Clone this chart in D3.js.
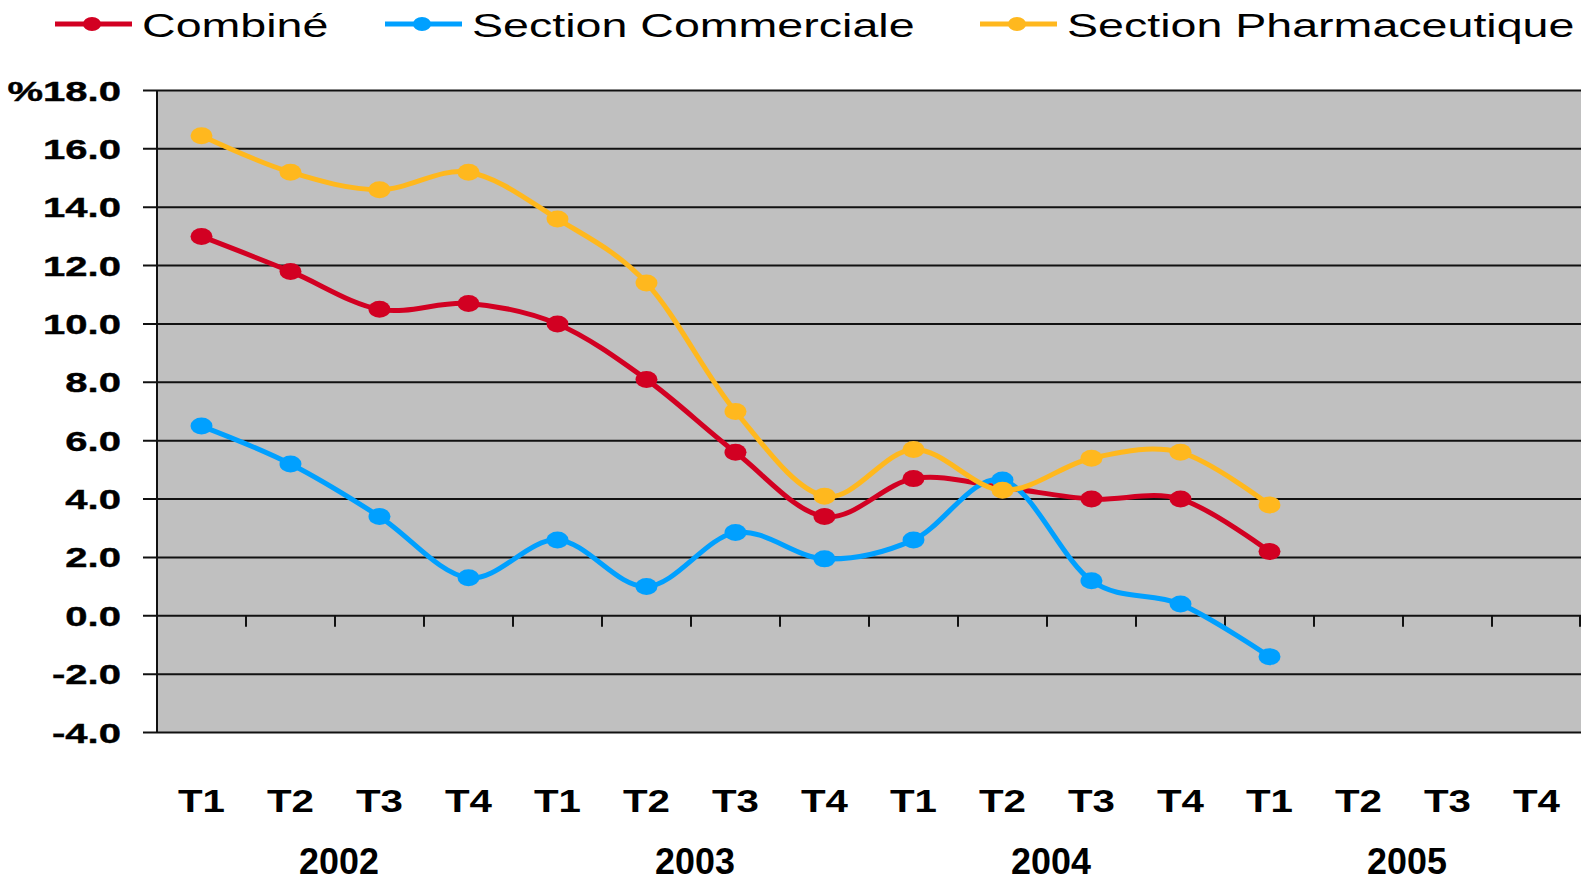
<!DOCTYPE html>
<html lang="fr">
<head>
<meta charset="UTF-8">
<title>Combiné / Section Commerciale / Section Pharmaceutique</title>
<style>
  html, body { margin: 0; padding: 0; background: #fff; overflow: hidden; }
  text { font-family: "Liberation Sans", Arial, sans-serif; fill: #000; }
</style>
</head>
<body>
<script src="https://cdn.jsdelivr.net/npm/d3@7"></script>
<script>
// data
const quarters = ['T1', 'T2', 'T3', 'T4', 'T1', 'T2', 'T3', 'T4', 'T1', 'T2', 'T3', 'T4', 'T1', 'T2', 'T3', 'T4']
const years = ['2002', '2003', '2004', '2005']
const yTicks = [-4, -2, 0, 2, 4, 6, 8, 10, 12, 14, 16, 18]

const combine = [13.0, 11.8, 10.5, 10.7, 10.0, 8.1, 5.6, 3.4, 4.7, 4.4, 4.0, 4.0, 2.2]
const commerciale = [6.5, 5.2, 3.4, 1.3, 2.6, 1.0, 2.85, 1.95, 2.6, 4.65, 1.2, 0.4, -1.4]
const pharma = [16.45, 15.2, 14.6, 15.2, 13.6, 11.4, 7.0, 4.1, 5.7, 4.3, 5.4, 5.6, 3.8]

const seriesNames = ['Combiné', 'Section Commerciale', 'Section Pharmaceutique']
const seriesValues = [combine, commerciale, pharma]
const colors = ['#d20022', '#00a0ff', '#ffb81e']

const width = 1592
const height = 883
const plot = { left: 157, right: 1581, top: 90.5, bottom: 732.5 }

const svg = d3.select('body').append('svg')
    .attr('width', width)
    .attr('height', height)

const x = d3.scaleBand()
    .domain(d3.range(quarters.length))
    .range([plot.left, plot.right])
    .paddingInner(0).paddingOuter(0)

const y = d3.scaleLinear()
    .domain([-4, 18])
    .range([plot.bottom, plot.top])

const cx = i => x(i) + x.bandwidth() / 2

// plot background
svg.append('rect')
    .attr('x', plot.left).attr('y', plot.top)
    .attr('width', plot.right - plot.left).attr('height', plot.bottom - plot.top)
    .attr('fill', '#c0c0c0')

// gridlines + left tick stubs
svg.selectAll('.grid')
    .data(yTicks)
    .enter().append('line')
    .attr('class', 'grid')
    .attr('x1', plot.left - 14).attr('x2', plot.right)
    .attr('y1', d => y(d)).attr('y2', d => y(d))
    .attr('stroke', '#111')
    .attr('stroke-width', 2)

// left axis
svg.append('line')
    .attr('x1', plot.left).attr('x2', plot.left)
    .attr('y1', plot.top).attr('y2', plot.bottom)
    .attr('stroke', '#111').attr('stroke-width', 2)

// category ticks hanging from the zero line
svg.selectAll('.xtick')
    .data(d3.range(1, quarters.length + 1))
    .enter().append('line')
    .attr('class', 'xtick')
    .attr('x1', d => d < quarters.length ? x(d) : plot.right - 1)
    .attr('x2', d => d < quarters.length ? x(d) : plot.right - 1)
    .attr('y1', y(0)).attr('y2', y(0) + 11)
    .attr('stroke', '#111').attr('stroke-width', 2)

// y labels (stretched wide like the original)
svg.selectAll('.ylab')
    .data(yTicks)
    .enter().append('text')
    .attr('class', 'ylab')
    .attr('transform', d => `translate(121, ${y(d) + 10}) scale(1.43, 1)`)
    .attr('text-anchor', 'end')
    .attr('font-size', 28)
    .attr('font-weight', 'bold')
    .attr('stroke', '#000').attr('stroke-width', 0.4)
    .text(d => (d === 18 ? '%' : '') + d.toFixed(1))

// quarter labels
svg.selectAll('.qlab')
    .data(quarters)
    .enter().append('text')
    .attr('class', 'qlab')
    .attr('transform', (d, i) => `translate(${cx(i)}, 812) scale(1.3, 1)`)
    .attr('text-anchor', 'middle')
    .attr('font-size', 31)
    .attr('font-weight', 'bold')
    .text(d => d)

// year labels
svg.selectAll('.year')
    .data(years)
    .enter().append('text')
    .attr('class', 'year')
    .attr('transform', (d, i) => `translate(${x(i * 4) + 2 * x.bandwidth() + 4}, 874) scale(0.97, 1)`)
    .attr('text-anchor', 'middle')
    .attr('font-size', 37)
    .attr('font-weight', 'bold')
    .text(d => d)

// series
const line = d3.line()
    .x((d, i) => cx(i))
    .y(d => y(d))
    .curve(d3.curveCardinal.tension(0))

const series = svg.selectAll('.series')
    .data(seriesValues)
    .enter().append('g')
    .attr('class', 'series')

series.append('path')
    .attr('d', d => line(d))
    .attr('fill', 'none')
    .attr('stroke', (d, i) => colors[i])
    .attr('stroke-width', 5)
    .attr('stroke-linejoin', 'round')

series.each(function (vals, si) {
    d3.select(this).selectAll('ellipse')
        .data(vals)
        .enter().append('ellipse')
        .attr('cx', (d, i) => cx(i))
        .attr('cy', d => y(d))
        .attr('rx', 11).attr('ry', 8.5)
        .attr('fill', colors[si])
})

// legend
const legendX = [55, 385, 980]
const legend = svg.selectAll('.legend')
    .data(seriesNames)
    .enter().append('g')
    .attr('class', 'legend')
    .attr('transform', (d, i) => `translate(${legendX[i]}, 24)`)

legend.append('line')
    .attr('x1', 0).attr('x2', 77)
    .attr('y1', 0).attr('y2', 0)
    .attr('stroke', (d, i) => colors[i])
    .attr('stroke-width', 5)

legend.append('ellipse')
    .attr('cx', 37).attr('cy', 0)
    .attr('rx', 9).attr('ry', 7)
    .attr('fill', (d, i) => colors[i])

legend.append('text')
    .attr('transform', 'translate(87, 13) scale(1.37, 1)')
    .attr('font-size', 34)
    .text(d => d)
</script>
</body>
</html>
